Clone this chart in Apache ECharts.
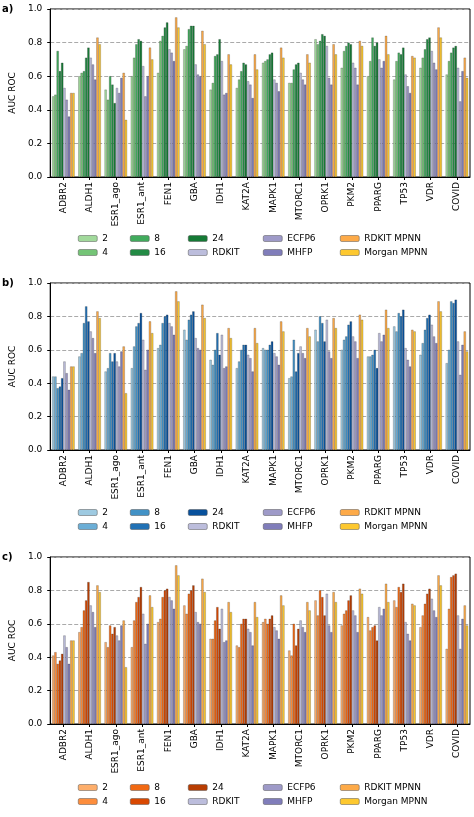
<!DOCTYPE html>
<html><head><meta charset="utf-8">
<script src="https://cdn.jsdelivr.net/npm/echarts@6/dist/echarts.min.js"></script>
<style>html,body{margin:0;padding:0;background:#fff}#c{width:474px;height:817px}</style>
</head><body><div id="c"></div>
<script>
const categories=['ADBR2','ALDH1','ESR1_ago','ESR1_ant','FEN1','GBA','IDH1','KAT2A','MAPK1','MTORC1','OPRK1','PKM2','PPARG','TP53','VDR','COVID'];
const sizeNames=['2','4','8','16','24'];
const baseNames=['RDKIT','ECFP6','MHFP','RDKIT MPNN','Morgan MPNN'];
const yTicks=['0.0','0.2','0.4','0.6','0.8','1.0'];
// baselines (same in all panels)
const rdkit=[0.53,0.71,0.53,0.66,0.76,0.67,0.69,0.57,0.58,0.62,0.78,0.68,0.70,0.61,0.75,0.65];
const ecfp6=[0.46,0.67,0.50,0.48,0.74,0.61,0.49,0.55,0.56,0.58,0.59,0.65,0.65,0.54,0.68,0.45];
const mhfp=[0.36,0.58,0.59,0.60,0.69,0.60,0.50,0.47,0.51,0.55,0.55,0.55,0.69,0.50,0.64,0.63];
const rdkitMpnn=[0.50,0.83,0.62,0.77,0.95,0.87,0.73,0.73,0.77,0.73,0.79,0.81,0.84,0.72,0.89,0.71];
const morganMpnn=[0.50,0.79,0.34,0.70,0.89,0.79,0.67,0.64,0.71,0.68,0.73,0.78,0.73,0.71,0.83,0.59];
// panel a
const a2=[0.48,0.60,0.52,0.60,0.62,0.76,0.52,0.53,0.68,0.56,0.82,0.65,0.60,0.58,0.65,0.61];
const a4=[0.49,0.62,0.46,0.71,0.81,0.78,0.56,0.58,0.69,0.56,0.79,0.75,0.69,0.69,0.71,0.69];
const a8=[0.75,0.63,0.60,0.79,0.84,0.88,0.72,0.63,0.70,0.64,0.81,0.78,0.83,0.74,0.76,0.74];
const a16=[0.63,0.71,0.55,0.82,0.89,0.90,0.73,0.68,0.73,0.67,0.85,0.80,0.78,0.73,0.82,0.77];
const a24=[0.68,0.77,0.44,0.81,0.92,0.90,0.82,0.67,0.74,0.68,0.84,0.79,0.80,0.77,0.83,0.78];
// panel b
const b2=[0.44,0.56,0.47,0.49,0.61,0.72,0.54,0.49,0.61,0.43,0.72,0.60,0.56,0.74,0.57,0.52];
const b4=[0.44,0.58,0.49,0.62,0.63,0.66,0.51,0.53,0.60,0.44,0.65,0.66,0.56,0.71,0.64,0.60];
const b8=[0.37,0.76,0.58,0.74,0.76,0.78,0.60,0.60,0.60,0.66,0.80,0.68,0.57,0.82,0.72,0.89];
const b16=[0.38,0.86,0.53,0.76,0.80,0.81,0.70,0.63,0.63,0.47,0.76,0.75,0.60,0.80,0.79,0.88];
const b24=[0.43,0.77,0.58,0.82,0.81,0.83,0.57,0.63,0.65,0.58,0.65,0.77,0.49,0.84,0.81,0.90];
// panel c
const c2=[0.41,0.55,0.49,0.46,0.61,0.71,0.51,0.47,0.61,0.44,0.74,0.59,0.64,0.74,0.58,0.45];
const c4=[0.43,0.58,0.46,0.62,0.63,0.66,0.51,0.46,0.63,0.41,0.65,0.66,0.56,0.70,0.65,0.69];
const c8=[0.36,0.68,0.59,0.73,0.76,0.78,0.62,0.60,0.60,0.60,0.80,0.68,0.58,0.82,0.72,0.88];
const c16=[0.38,0.74,0.54,0.76,0.80,0.80,0.70,0.63,0.63,0.47,0.76,0.74,0.59,0.79,0.78,0.89];
const c24=[0.42,0.85,0.58,0.82,0.81,0.83,0.57,0.63,0.65,0.57,0.65,0.77,0.50,0.84,0.81,0.90];

const panels=[
 {id:'a',sizes:[a2,a4,a8,a16,a24],colors:['#a1d99b','#74c476','#41ab5d','#238b45','#157a35'],top:9,bottom:177,leg:240},
 {id:'b',sizes:[b2,b4,b8,b16,b24],colors:['#9ecae1','#6baed6','#4292c6','#2171b5','#08519c'],top:283,bottom:450,leg:514},
 {id:'c',sizes:[c2,c4,c8,c16,c24],colors:['#fdae6b','#fd8d3c','#f16913','#d94801','#b83d02'],top:557,bottom:724,leg:789}
];
const baseColors=['#bcbddc','#9e9ac8','#807dba','#fdaa48','#fdc82f'];
const baseData=[rdkit,ecfp6,mhfp,rdkitMpnn,morganMpnn];
const FONT='DejaVu Sans';
const grid=[],xAxis=[],yAxis=[],series=[],legend=[],graphic=[];
const legX=[78,130,188,263,340];
panels.forEach((p,i)=>{
  grid.push({left:48,right:4,top:p.top,height:p.bottom-p.top,show:true,borderColor:'#000',borderWidth:1});
  xAxis.push({type:'category',gridIndex:i,data:categories,axisTick:{show:true,alignWithLabel:true,length:3,lineStyle:{color:'#000'}},axisLine:{lineStyle:{color:'#000'}},
    axisLabel:{rotate:90,fontSize:9,fontFamily:FONT,color:'#000',interval:0,margin:5}});
  yAxis.push({type:'value',gridIndex:i,min:0,max:1,interval:0.2,name:'AUC ROC',nameLocation:'middle',nameGap:30,nameTextStyle:{fontSize:9,fontFamily:FONT,color:'#000'},
    axisLine:{show:true,lineStyle:{color:'#000'}},axisTick:{show:true,length:3,lineStyle:{color:'#000'}},
    axisLabel:{fontSize:9,fontFamily:FONT,color:'#000',formatter:v=>yTicks[Math.round(v*5)]},
    splitLine:{lineStyle:{type:'dashed',color:'#aaa'}}});
  const names=[];
  p.sizes.forEach((d,k)=>{names.push(p.id+'|'+sizeNames[k]);
    series.push({type:'bar',name:p.id+'|'+sizeNames[k],xAxisIndex:i,yAxisIndex:i,data:d,barGap:'0%',barCategoryGap:'14%',
      itemStyle:{color:p.colors[k],borderColor:'rgba(40,40,40,0.6)',borderWidth:0.4}});});
  baseData.forEach((d,k)=>{names.push(p.id+'|'+baseNames[k]);
    series.push({type:'bar',name:p.id+'|'+baseNames[k],xAxisIndex:i,yAxisIndex:i,data:d,barGap:'0%',barCategoryGap:'14%',
      itemStyle:{color:baseColors[k],borderColor:'rgba(40,40,40,0.6)',borderWidth:0.4}});});
  for(let j=0;j<10;j++){
    const c=Math.floor(j/2),r=j%2;
    legend.push({orient:'horizontal',left:legX[c],top:p.leg-6+r*14,itemWidth:19,itemHeight:6,padding:0,data:[names[j]],
      formatter:n=>n.split('|')[1],textStyle:{fontSize:9,fontFamily:FONT,color:'#000'},selectedMode:false,
      itemStyle:{borderColor:'#555',borderWidth:0.5}});
  }
  graphic.push({type:'text',left:2,top:p.top-5,style:{text:p.id+')',font:'bold 10px "DejaVu Sans"',fill:'#000'}});
});
const chart=echarts.init(document.getElementById('c'),null,{renderer:'canvas'});
chart.setOption({animation:false,backgroundColor:'#fff',grid,xAxis,yAxis,series,legend,graphic});
</script></body></html>
